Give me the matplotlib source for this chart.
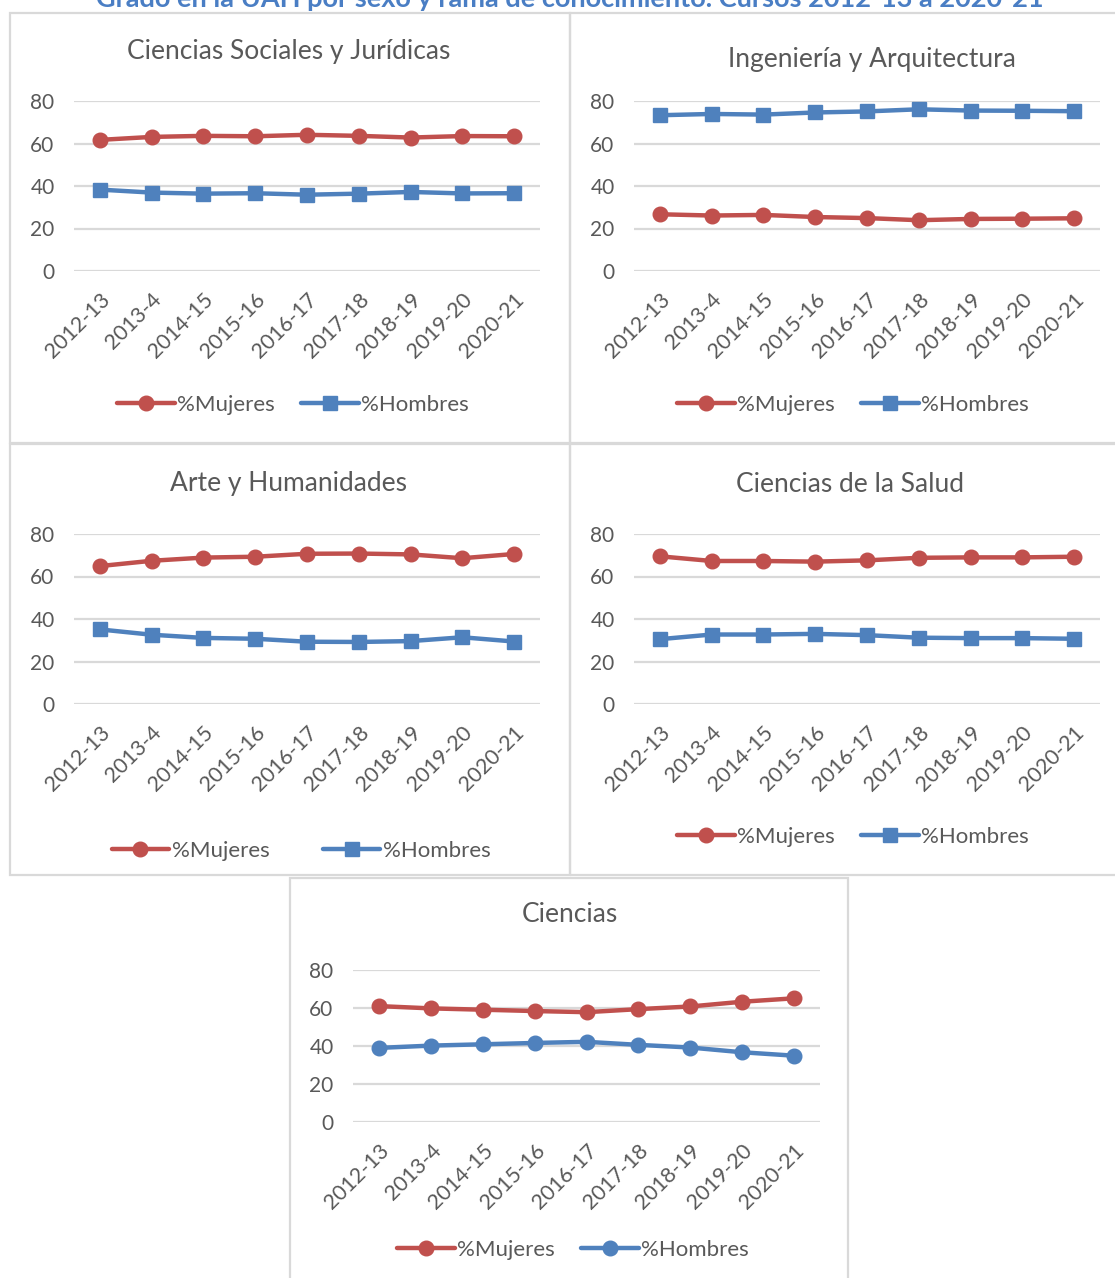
import matplotlib
matplotlib.use("Agg")
import matplotlib.pyplot as plt
from matplotlib.patches import Rectangle

# Academic years
cursos = ["2012-13", "2013-4", "2014-15", "2015-16", "2016-17",
          "2017-18", "2018-19", "2019-20", "2020-21"]

# Share of women / men (%) per branch of knowledge
sociales_mujeres = [61.7, 63.1, 63.6, 63.4, 64.1, 63.6, 62.8, 63.5, 63.4]
sociales_hombres = [38.3, 36.9, 36.4, 36.6, 35.9, 36.4, 37.2, 36.5, 36.6]

ingenieria_mujeres = [26.7, 26.1, 26.4, 25.4, 24.9, 23.9, 24.5, 24.6, 24.8]
ingenieria_hombres = [73.3, 73.9, 73.6, 74.6, 75.1, 76.1, 75.5, 75.4, 75.2]

arte_mujeres = [64.9, 67.4, 68.9, 69.3, 70.7, 70.8, 70.4, 68.6, 70.6]
arte_hombres = [35.1, 32.6, 31.1, 30.7, 29.3, 29.2, 29.6, 31.4, 29.4]

salud_mujeres = [69.5, 67.3, 67.3, 67.0, 67.6, 68.8, 69.0, 69.0, 69.3]
salud_hombres = [30.5, 32.7, 32.7, 33.0, 32.4, 31.2, 31.0, 31.0, 30.7]

ciencias_mujeres = [61.0, 59.8, 59.1, 58.4, 57.8, 59.4, 60.8, 63.3, 65.1]
ciencias_hombres = [39.0, 40.2, 40.9, 41.6, 42.2, 40.6, 39.2, 36.7, 34.9]

titulo = "Grado en la UAH por sexo y rama de conocimiento. Cursos 2012-13 a 2020-21"

W, H = 1115, 1278
RED = "#C0504D"
BLUE = "#4F81BD"
GRID = "#D9D9D9"
TXT = "#595959"
FONT = "Lato"

plt.rcParams["font.family"] = [FONT, "DejaVu Sans"]

fig = plt.figure(figsize=(W / 100, H / 100), dpi=100)
fig.patch.set_facecolor("white")


def fx(x):
    return x / W


def fy(y):
    return 1 - y / H


def box(x0, y0, x1, y1):
    fig.add_artist(Rectangle((fx(x0), fy(y1)), fx(x1) - fx(x0), fy(y0) - fy(y1),
                             transform=fig.transFigure, facecolor="none",
                             edgecolor=GRID, linewidth=1.6, zorder=0))


def panel(name, mujeres, hombres, area, title_xy, legend_xy, colspace,
          hombres_marker="s"):
    x0, y0, x1, y1 = area
    ax = fig.add_axes([fx(x0), fy(y1), fx(x1) - fx(x0), fy(y0) - fy(y1)])
    xs = range(len(cursos))
    ax.plot(xs, mujeres, color=RED, lw=3.2, marker="o", ms=10.5,
            label="%Mujeres", solid_capstyle="round")
    ax.plot(xs, hombres, color=BLUE, lw=3.2, marker=hombres_marker,
            ms=10.5 if hombres_marker == "o" else 10, label="%Hombres",
            solid_capstyle="round")
    ax.set_xlim(-0.5, len(cursos) - 0.5)
    ax.set_ylim(0, 80)
    ax.set_yticks([0, 20, 40, 60, 80])
    ax.yaxis.grid(True, color=GRID, lw=1.6)
    ax.set_axisbelow(True)
    for s in ax.spines.values():
        s.set_visible(False)
    ax.tick_params(axis="both", length=0, colors=TXT, labelsize=15)
    ax.tick_params(axis="y", pad=14)
    ax.set_xticks(list(xs))
    ax.set_xticklabels(cursos, rotation=45, ha="right", va="top",
                       rotation_mode="anchor", fontsize=15.5)
    ax.tick_params(axis="x", pad=13)
    ax.patch.set_alpha(0)
    fig.text(fx(title_xy[0]), fy(title_xy[1]), name, ha="center", va="center",
             color=TXT, fontsize=19)
    ax.legend(loc="center", bbox_to_anchor=(fx(legend_xy[0]), fy(legend_xy[1])),
              bbox_transform=fig.transFigure, ncol=2, frameon=False,
              fontsize=16, labelcolor=TXT, handlelength=2.6,
              handletextpad=0.1, columnspacing=colspace, borderpad=0)
    return ax


# Panel frames
box(10, 13, 570, 443)
box(570, 13, 1125, 443)
box(10, 444, 570, 875)
box(570, 444, 1125, 875)
box(290, 878, 848, 1290)

fig.text(0.511, fy(-1), titulo, ha="center", va="center", color="#4A7EC4",
         fontsize=19.5, fontweight="bold")

panel("Ciencias Sociales y Jurídicas", sociales_mujeres, sociales_hombres,
      (74, 101, 540, 271), (289, 52), (293, 405), 1.2)
panel("Ingeniería y Arquitectura", ingenieria_mujeres, ingenieria_hombres,
      (634, 101, 1100, 271), (872, 59), (853, 405), 1.2)
panel("Arte y Humanidades", arte_mujeres, arte_hombres,
      (74, 534, 540, 704), (289, 484), (301, 851), 2.4)
panel("Ciencias de la Salud", salud_mujeres, salud_hombres,
      (634, 534, 1100, 704), (850, 484), (853, 837), 1.2)
panel("Ciencias", ciencias_mujeres, ciencias_hombres,
      (353, 970, 820, 1122), (570, 915), (573, 1250), 1.2,
      hombres_marker="o")

fig.savefig("out.png", dpi=100, facecolor="white")
